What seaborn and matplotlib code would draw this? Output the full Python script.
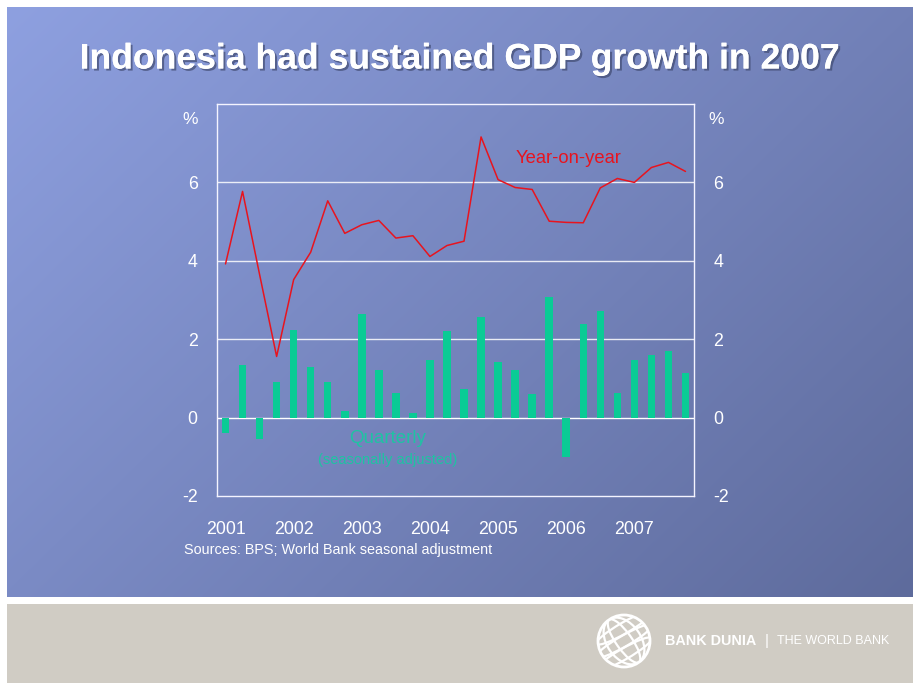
import numpy as np
import pandas as pd
import matplotlib
matplotlib.use("Agg")
import matplotlib.pyplot as plt
import matplotlib.patheffects as pe
from matplotlib.patches import Rectangle, Circle, Ellipse
import seaborn as sns

# ---------------- data ----------------
quarters = [f"{y}Q{q}" for y in range(2001, 2008) for q in range(1, 5)]
quarterly_sa = [-0.40, 1.35, -0.55, 0.92,
                2.24, 1.28, 0.92, 0.17,
                2.65, 1.21, 0.63, 0.12,
                1.47, 2.20, 0.73, 2.56,
                1.41, 1.21, 0.60, 3.08,
                -1.00, 2.38, 2.72, 0.64,
                1.47, 1.59, 1.69, 1.13]
year_on_year = [3.92, 5.77, 3.65, 1.56,
                3.52, 4.22, 5.53, 4.70,
                4.92, 5.03, 4.58, 4.64,
                4.11, 4.39, 4.50, 7.16,
                6.07, 5.87, 5.82, 5.01,
                4.98, 4.97, 5.86, 6.10,
                6.00, 6.38, 6.51, 6.28]
year_labels = ["2001", "2002", "2003", "2004", "2005", "2006", "2007"]
y_ticks = [-2, 0, 2, 4, 6]

df = pd.DataFrame({"idx": np.arange(len(quarters)), "quarter": quarters,
                   "quarterly": quarterly_sa, "yoy": year_on_year})

# ---------------- style ----------------
sns.set_theme(style="white")
plt.rcParams['font.family'] = ['Liberation Sans', 'DejaVu Sans']

W, H = 920, 690
fig = plt.figure(figsize=(W / 100, H / 100), dpi=100)
fig.patch.set_facecolor("white")

# background axes (pixel coordinates)
bg = fig.add_axes([0, 0, 1, 1], zorder=-10)
bg.set_xlim(0, W)
bg.set_ylim(H, 0)
bg.axis("off")
gx = np.linspace(0, 1, 300)
gy = np.linspace(0, 1, 200)
GX, GY = np.meshgrid(gx, gy)
t = (GX * 0.6 + GY * 0.4)
c0 = np.array([142, 160, 224]) / 255.0
c1 = np.array([94, 107, 156]) / 255.0
img = c0[None, None, :] * (1 - t[..., None]) + c1[None, None, :] * t[..., None]
bg.imshow(img, extent=(7, 913, 597, 7), aspect="auto", interpolation="bilinear")
bg.add_patch(Rectangle((7, 604), 906, 79, facecolor="#D0CCC4", edgecolor="none"))

# world bank logo
gcx, gcy, gr = 624, 641, 26
globe = Circle((gcx, gcy), gr, facecolor="none", edgecolor="white", lw=2.0)
bg.add_patch(globe)
for w in [16, 34]:
    e = Ellipse((gcx, gcy), w, 2 * gr, angle=-35, facecolor="none", edgecolor="white", lw=1.6)
    bg.add_patch(e)
    e.set_clip_path(globe)
for off in [-13, 0, 13]:
    e = Ellipse((gcx, gcy + off), 2 * gr + 12, 11, angle=-30, facecolor="none",
                edgecolor="white", lw=1.6)
    bg.add_patch(e)
    e.set_clip_path(globe)
bg.text(665, 641, "BANK DUNIA", color="white", fontsize=10.4, fontweight="bold",
        va="center", ha="left")
bg.text(765, 641, "|", color="white", fontsize=11, va="center", ha="left")
bg.text(777, 641, "THE WORLD BANK", color="white", fontsize=9.0, va="center", ha="left")

# title
bg.text(459, 59, "Indonesia had sustained GDP growth in 2007", color="white",
        fontsize=25.6, fontweight="bold", ha="center", va="center",
        path_effects=[pe.withSimplePatchShadow(offset=(1.5, -1.5), shadow_rgbFace="#404A70", alpha=0.7),
                      pe.Normal()])
bg.text(184, 550, "Sources: BPS; World Bank seasonal adjustment", color="white",
        fontsize=10.4, ha="left", va="center")

# ---------------- main chart ----------------
ax = fig.add_axes([217 / W, 1 - 496 / H, (694 - 217) / W, (496 - 104) / H])
ax.patch.set_alpha(0)

sns.barplot(data=df, x="idx", y="quarterly", color="#0ACB95", saturation=1,
            width=0.44, linewidth=0, edgecolor="none", ax=ax, zorder=3)
sns.lineplot(data=df, x="idx", y="yoy", color="#E8141E", lw=1.1, ax=ax, zorder=4)

ax.set_xlim(-0.5, len(quarters) - 0.5)
ax.set_ylim(-2, 8)
ax.set_yticks(y_ticks)
ax.set_yticklabels([str(v) for v in y_ticks])
ax.set_xticks(np.arange(0, len(quarters), 4))
ax.set_xticklabels(year_labels)
ax.set_xlabel("")
ax.set_ylabel("")
for v in [0, 2, 4, 6]:
    ax.axhline(v, color="white", lw=1.0, alpha=0.85 if v else 1.0, zorder=2)
for s in ax.spines.values():
    s.set_color("#F4F4FF")
    s.set_linewidth(1.0)
ax.tick_params(axis="both", length=0, colors="white", labelsize=12.8)
ax.tick_params(axis="x", pad=18)
ax.tick_params(axis="y", pad=14, labelright=True, right=False)

ax.text(-0.04, 0.96, "%", transform=ax.transAxes, color="white", fontsize=12.5,
        ha="right", va="center")
ax.text(1.03, 0.96, "%", transform=ax.transAxes, color="white", fontsize=12.5,
        ha="left", va="center")

ax.text(20.15, 6.6, "Year-on-year", color="#E8141E", fontsize=13.2, ha="center", va="center")
ax.text(9.5, -0.53, "Quarterly", color="#1EC3A3", fontsize=13.5, ha="center", va="center")
ax.text(9.5, -1.08, "(seasonally adjusted)", color="#1EC3A3", fontsize=10.5,
        ha="center", va="center")

fig.savefig("out.png", dpi=100, facecolor=fig.get_facecolor())
